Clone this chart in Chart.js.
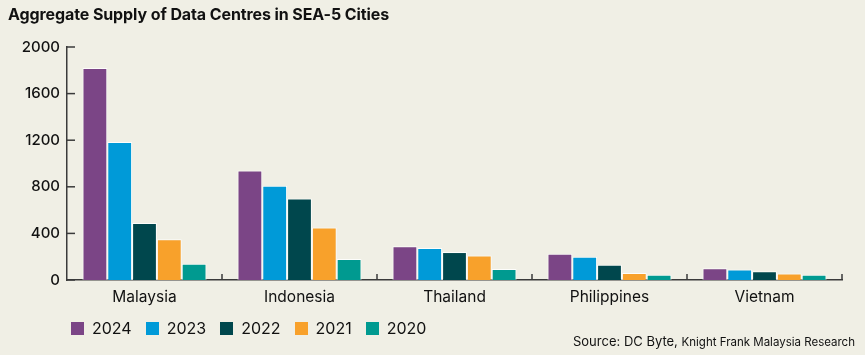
<!DOCTYPE html>
<html>
<head>
<meta charset="utf-8">
<script src="https://cdn.jsdelivr.net/npm/chart.js@4.4.1/dist/chart.umd.min.js"></script>
<style>
  html, body { margin: 0; padding: 0; background: #F0EFE5; }
  #wrap { position: relative; width: 865px; height: 355px; overflow: hidden; font-family: Inter, "Liberation Sans", sans-serif; color: #111; }
  #title { position: absolute; left: 8px; top: 4px; font-size: 16px; font-weight: 700; letter-spacing: -0.1px; }
  #chartbox { position: absolute; left: 0; top: 0; width: 865px; height: 355px; }
  #legend { position: absolute; left: 71px; top: 318px; display: flex; align-items: center; font-size: 16px; }
  .item { display: flex; align-items: center; margin-right: 14px; }
  .sw { width: 13px; height: 13px; margin-right: 8px; }
  #source { position: absolute; right: 10px; top: 333px; font-size: 13px; white-space: nowrap; }
  #source .small { font-size: 11.5px; }
</style>
</head>
<body>
<div id="wrap">
  <div id="chartbox"><canvas id="c" width="865" height="355"></canvas></div>
  <div id="title">Aggregate Supply of Data Centres in SEA-5 Cities</div>
  <div id="legend"></div>
  <div id="source">Source: DC Byte, <span class="small">Knight Frank Malaysia Research</span></div>
</div>
<script>
const categories = ["Malaysia", "Indonesia", "Thailand", "Philippines", "Vietnam"];
const seriesNames = ["2024", "2023", "2022", "2021", "2020"];
const v2024 = [1820, 940, 290, 225, 100];
const v2023 = [1185, 810, 275, 200, 90];
const v2022 = [490, 700, 240, 130, 75];
const v2021 = [350, 450, 210, 60, 55];
const v2020 = [140, 180, 95, 45, 45];
const yTicks = [0, 400, 800, 1200, 1600, 2000];
const colors = ["#7B4586", "#009AD8", "#00474D", "#F8A12B", "#009A90"];

const seriesValues = [v2024, v2023, v2022, v2021, v2020];

// HTML legend built from the series
const lg = document.getElementById('legend');
seriesNames.forEach((n, i) => {
  const it = document.createElement('div'); it.className = 'item';
  const sw = document.createElement('div'); sw.className = 'sw'; sw.style.background = colors[i];
  const tx = document.createElement('span'); tx.textContent = n;
  it.appendChild(sw); it.appendChild(tx); lg.appendChild(it);
});

const AXIS = '#3a3a3a';
const tickMarks = {
  id: 'tickMarks',
  afterDraw(chart) {
    const ctx = chart.ctx, y = chart.scales.y, x = chart.scales.x;
    ctx.save();
    ctx.strokeStyle = AXIS; ctx.lineWidth = 1.5;
    yTicks.forEach(t => {
      const py = y.getPixelForValue(t);
      ctx.beginPath(); ctx.moveTo(x.left, py); ctx.lineTo(x.left + 8, py); ctx.stroke();
    });
    const n = categories.length;
    for (let i = 1; i <= n; i++) {
      const a = x.getPixelForValue(i - 1);
      const step = (x.right - x.left) / n;
      const bx = a + step / 2;
      ctx.beginPath(); ctx.moveTo(bx, x.top); ctx.lineTo(bx, x.top - 6); ctx.stroke();
    }
    ctx.restore();
  }
};

new Chart(document.getElementById('c'), {
  type: 'bar',
  data: {
    labels: categories,
    datasets: seriesNames.map((n, i) => ({
      label: n,
      data: seriesValues[i],
      backgroundColor: colors[i],
      borderColor: 'rgba(255,255,255,0.85)',
      borderWidth: 1,
      categoryPercentage: 0.8,
      barPercentage: 1.0
    }))
  },
  options: {
    responsive: false,
    animation: false,
    devicePixelRatio: 1,
    layout: { padding: { top: 47, right: 23, bottom: 45, left: 0 } },
    plugins: { legend: { display: false }, tooltip: { enabled: false } },
    scales: {
      x: {
        grid: { display: false, drawTicks: false },
        border: { display: true, color: AXIS, width: 1.5 },
        ticks: { color: '#111', font: { family: 'Inter', size: 15.5 }, padding: 8 },
        afterFit(s) { s.height = 30; }
      },
      y: {
        min: 0, max: 2000,
        grid: { display: false, drawTicks: false },
        border: { display: true, color: AXIS, width: 1.5 },
        afterBuildTicks(s) { s.ticks = yTicks.map(v => ({ value: v })); },
        ticks: { color: '#111', font: { family: 'Inter', size: 15, weight: '500' }, padding: 7,
                 callback: v => String(v) },
        afterFit(s) { s.width = 67; }
      }
    }
  },
  plugins: [tickMarks]
});
</script>
</body>
</html>
